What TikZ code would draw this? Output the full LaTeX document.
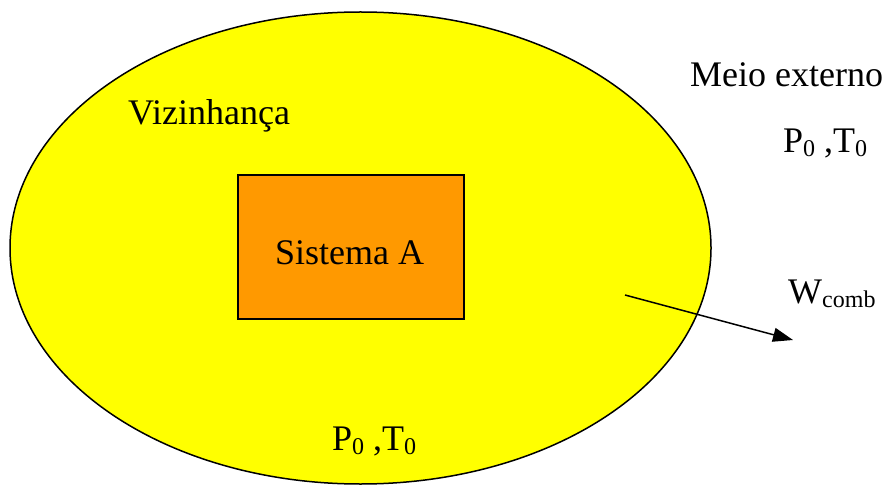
\documentclass[tikz,border=0pt]{standalone}
\usepackage{fontspec}
\setmainfont{Liberation Serif}
\usetikzlibrary{arrows.meta}
\definecolor{ellyellow}{HTML}{FFFF00}
\definecolor{sysorange}{HTML}{FF9900}
\newcommand\mysub[1]{\raisebox{-4pt}{\fontsize{24}{24}\selectfont #1}}
\tikzset{
  lbl/.style={anchor=base west, inner sep=0pt, font=\fontsize{36}{40}\selectfont},
  outline/.style={line width=1.5pt, draw=black}
}
\begin{document}
\begin{tikzpicture}[x=1pt,y=-1pt]
\useasboundingbox (0,0) rectangle (890,486);
\draw[outline, fill=ellyellow] (360.5,248) ellipse [x radius=350.5, y radius=236];
\node[outline, fill=sysorange, minimum width=226pt, minimum height=144pt, inner sep=0pt, line width=1.3pt] (sys) at (351,247) {};
\node[lbl] (sysl) at (275,264) {Sistema A};
\node[lbl] (viz) at (128,125) {Vizinhança};
\node[lbl] (meio) at (690,87) {Meio externo};
\node[lbl] (pt1) at (783,153) {P\mysub{0} ,T\mysub{0}};
\node[lbl] (pt2) at (332,450) {P\mysub{0} ,T\mysub{0}};
\node[lbl] (w) at (788,303) {W\mysub{comb}};
\coordinate (a1) at (625,295);
\coordinate (a2) at (793,340);
\draw[line width=1.5pt, -{Triangle[length=20pt, width=14pt]}] (a1) -- (a2);
\end{tikzpicture}
\end{document}
